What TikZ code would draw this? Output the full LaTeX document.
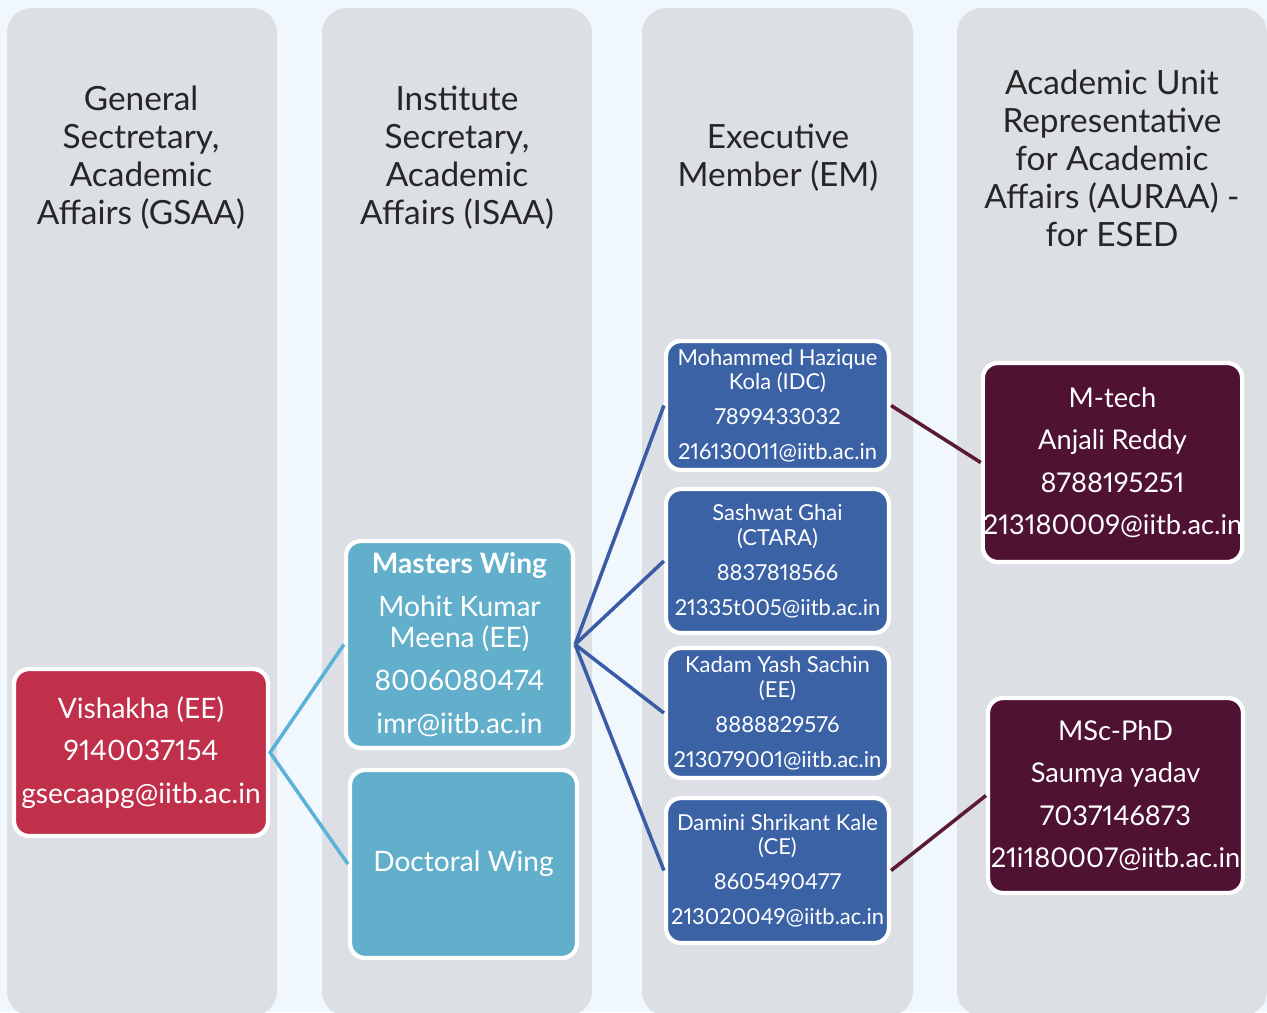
\documentclass[tikz,border=0pt]{standalone}
\usepackage{fontspec}
\setmainfont{Lato}[Numbers=Proportional]
\usepackage{tikz}
\definecolor{bgblue}{HTML}{F1F8FD}
\definecolor{colgray}{HTML}{DCDFE3}
\definecolor{gsred}{HTML}{C0304B}
\definecolor{wingblue}{HTML}{62AFCC}
\definecolor{emblue}{HTML}{3C62A6}
\definecolor{aumaroon}{HTML}{4F1232}
\definecolor{linklight}{HTML}{5AB2DA}
\definecolor{linkdark}{HTML}{3A5CA6}
\definecolor{linkmaroon}{HTML}{5A1A36}

\begin{document}
\begin{tikzpicture}[x=0.02cm,y=-0.02cm,
    column/.style={fill=colgray,rounded corners=0.5cm},
    head/.style={align=center,text=black!85,font=\fontsize{19}{21.6}\selectfont},
    card/.style={draw=white,line width=2.4pt,rounded corners=0.3cm,text=white,align=center,inner sep=0pt},
    gsbox/.style={card,fill=gsred,minimum width=5.08cm,minimum height=3.34cm,font=\fontsize{16}{24}\selectfont},
    wingbox/.style={card,fill=wingblue,minimum width=4.54cm,font=\fontsize{16}{18}\selectfont},
    embox/.style={card,fill=emblue,minimum width=4.46cm,font=\fontsize{12.5}{14.2}\selectfont},
    aubox/.style={card,fill=aumaroon,minimum width=5.1cm,font=\fontsize{15.5}{24}\selectfont},
    link/.style={line width=2pt}]
  \fill[bgblue] (0,0) rectangle (1267,1012);
  \useasboundingbox (0,0) rectangle (1267,1012);
  \clip (0,0) rectangle (1267,1012);
  \fill[column] (7,8) rectangle (277,1016);
  \fill[column] (322,8) rectangle (592,1016);
  \fill[column] (642,8) rectangle (913,1016);
  \fill[column] (957,8) rectangle (1267,1016);

  \node[head] (hgsaa) at (141,158) {General\\Sectretary,\\Academic\\Affairs (GSAA)};
  \node[head] (hisaa) at (457,158) {Institute\\Secretary,\\Academic\\Affairs (ISAA)};
  \node[head] (hem) at (778,158) {Executive\\Member (EM)};
  \node[head] (hauraa) at (1112,158) {Academic Unit\\Representative\\for Academic\\Affairs (AURAA) -\\for ESED};

  \node[gsbox] (gsaa) at (141,752.5) {Vishakha (EE)\\9140037154\\gsecaapg@iitb.ac.in};

  \node[wingbox,minimum height=4.14cm] (masters) at (459.5,644.5)
       {\textbf{Masters Wing}\\[6.4pt]Mohit Kumar\\Meena (EE)\\[6.4pt]8006080474\\[6.4pt]imr@iitb.ac.in};
  \node[wingbox,minimum height=3.76cm] (doctoral) at (463.5,864) {Doctoral Wing};

  \node[embox,minimum height=2.58cm] (em1) at (777.5,405.5)
       {Mohammed Hazique\\Kola (IDC)\\[5.6pt]7899433032\\[5.6pt]216130011@iitb.ac.in};
  \node[embox,minimum height=2.88cm] (em2) at (777.5,561)
       {Sashwat Ghai\\(CTARA)\\[5.6pt]8837818566\\[5.6pt]21335t005@iitb.ac.in};
  \node[embox,minimum height=2.6cm] (em3) at (777.5,713)
       {Kadam Yash Sachin\\(EE)\\[5.6pt]8888829576\\[5.6pt]213079001@iitb.ac.in};
  \node[embox,minimum height=2.9cm] (em4) at (777.5,870.5)
       {Damini Shrikant Kale\\(CE)\\[5.6pt]8605490477\\[5.6pt]213020049@iitb.ac.in};

  \node[aubox,minimum height=3.98cm] (au1) at (1112.5,462.5)
       {M-tech\\Anjali Reddy\\8788195251\\213180009@iitb.ac.in};
  \node[aubox,minimum height=3.9cm] (au2) at (1115.5,795.5)
       {MSc-PhD\\Saumya yadav\\7037146873\\21i180007@iitb.ac.in};

  \draw[link,linklight] (masters.west) -- (gsaa.east) -- (doctoral.west);
  \draw[link,linkdark] (masters.east) -- (em1.west);
  \draw[link,linkdark] (masters.east) -- (em2.west);
  \draw[link,linkdark] (masters.east) -- (em3.west);
  \draw[link,linkdark] (masters.east) -- (em4.west);
  \draw[link,linkmaroon] (em1.east) -- (au1.west);
  \draw[link,linkmaroon] (em4.east) -- (au2.west);
\end{tikzpicture}
\end{document}
